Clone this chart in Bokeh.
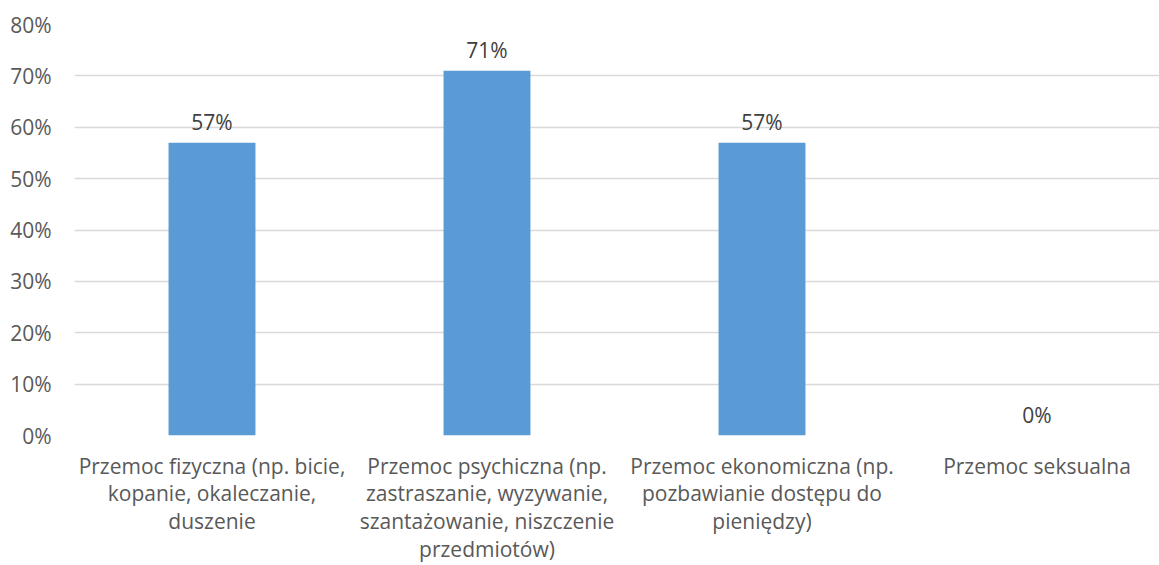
from bokeh.plotting import figure
from bokeh.models import Range1d, FixedTicker, NumeralTickFormatter, ColumnDataSource
from bokeh.core.properties import value
from bokeh.embed import file_html
from bokeh.resources import INLINE
import numpy as np

categories = [
    "Przemoc fizyczna (np. bicie, kopanie, okaleczanie, duszenie",
    "Przemoc psychiczna (np. zastraszanie, wyzywanie, szantażowanie, niszczenie przedmiotów)",
    "Przemoc ekonomiczna (np. pozbawianie dostępu do pieniędzy)",
    "Przemoc seksualna",
]
wrapped_labels = [
    "Przemoc fizyczna (np. bicie,\nkopanie, okaleczanie,\nduszenie",
    "Przemoc psychiczna (np.\nzastraszanie, wyzywanie,\nszantażowanie, niszczenie\nprzedmiotów)",
    "Przemoc ekonomiczna (np.\npozbawianie dostępu do\npieniędzy)",
    "Przemoc seksualna",
]
values = [0.57, 0.71, 0.57, 0.0]
value_labels = ["57%", "71%", "57%", "0%"]
y_ticks = [0.0, 0.1, 0.2, 0.3, 0.4, 0.5, 0.6, 0.7, 0.8]

FONT = "Open Sans"
FS = "21px"
W, H = 1159, 565
LEFT, TOP, BOTTOM = 74, 24, 130
CAT_PX = 275.0

xs = list(np.arange(len(categories)) + 0.5)
src = ColumnDataSource(dict(x=xs, top=values, lab=value_labels, cat=categories))

p = figure(width=W, height=H, output_backend="svg", toolbar_location=None,
           x_range=Range1d(0, (W - LEFT) / CAT_PX), y_range=Range1d(0, 0.8),
           min_border_left=LEFT, min_border_right=0, min_border_top=TOP,
           min_border_bottom=BOTTOM)
p.outline_line_color = None
p.background_fill_color = "white"
p.border_fill_color = "white"

p.vbar(x="x", top="top", width=0.316, bottom=0, source=src,
       fill_color="#5B9BD5", line_color=None)

p.text(x="x", y="top", text="lab", source=src, text_align="center",
       text_baseline="alphabetic", y_offset=-21, text_font=value(FONT),
       text_font_size=FS, text_color="#404040")

# y axis
p.yaxis.ticker = FixedTicker(ticks=y_ticks)
p.yaxis.formatter = NumeralTickFormatter(format="0%")
p.yaxis.axis_line_color = None
p.yaxis.major_tick_line_color = None
p.yaxis.minor_tick_line_color = None
p.yaxis.major_tick_in = 0
p.yaxis.major_tick_out = 0
p.yaxis.major_label_standoff = 23
p.yaxis.major_label_text_font = FONT
p.yaxis.major_label_text_font_size = FS
p.yaxis.major_label_text_color = "#595959"

# x axis
p.xaxis.ticker = FixedTicker(ticks=xs)
p.xaxis.major_label_overrides = {float(x): lab for x, lab in zip(xs, wrapped_labels)}
p.xaxis.axis_line_color = None
p.xaxis.major_tick_line_color = None
p.xaxis.minor_tick_line_color = None
p.xaxis.major_tick_in = 0
p.xaxis.major_tick_out = 0
p.xaxis.major_label_standoff = 16
p.xaxis.major_label_text_font = FONT
p.xaxis.major_label_text_font_size = FS
p.xaxis.major_label_text_color = "#595959"
p.xaxis.major_label_text_line_height = 0.99

p.xgrid.grid_line_color = None
p.ygrid.ticker = FixedTicker(ticks=y_ticks)
p.ygrid.grid_line_color = "#D9D9D9"
p.ygrid.grid_line_width = 1.5

open("out.html", "w").write(file_html(p, INLINE))
